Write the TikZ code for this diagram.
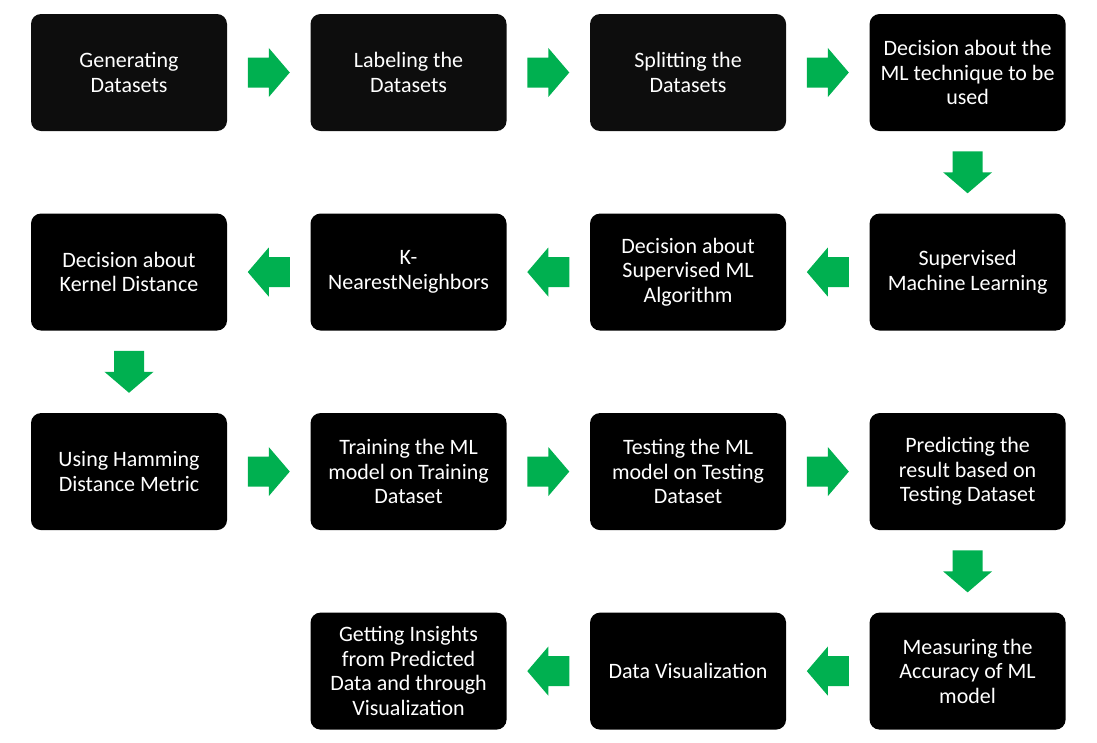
\documentclass[tikz,border=0pt]{standalone}
\usepackage{fontspec}
\setmainfont{Carlito}
\usepackage{xcolor}
\usetikzlibrary{positioning}
\definecolor{boxgray}{RGB}{13,13,13}
\definecolor{arrowgreen}{RGB}{0,176,80}

\begin{document}
\begin{tikzpicture}[node distance={61.5pt and 62.25pt},
        main/.style = {fill=black, text=white, rounded corners=7.5pt, minimum width=147pt, minimum height=87.75pt, align=center, font=\fontsize{16.5}{18.4}\selectfont},
        flowarrow/.pic = {\fill[arrowgreen] (-15.75pt,-11.25pt) -- (0pt,-11.25pt) -- (0pt,-18.4pt) -- (15.75pt,0pt) -- (0pt,18.4pt) -- (0pt,11.25pt) -- (-15.75pt,11.25pt) -- cycle;}]
        \useasboundingbox (0pt,0pt) rectangle (822.75pt,-557.25pt);
        \node[main, fill=boxgray] (1) at (96.75pt,-54.375pt) {Generating\\Datasets};
        \node[main, fill=boxgray] (2) [right=of 1] {Labeling the\\Datasets};
        \node[main, fill=boxgray] (3) [right=of 2] {Splitting the\\Datasets};
        \node[main] (4) [right=of 3] {Decision about the\\ML technique to be\\used};
        \node[main] (5) [below=of 4] {Supervised\\Machine Learning};
        \node[main] (6) [left=of 5] {Decision about\\Supervised ML\\Algorithm};
        \node[main] (7) [left=of 6] {K-\\NearestNeighbors};
        \node[main] (8) [left=of 7] {Decision about\\Kernel Distance};
        \node[main] (9) [below=of 8] {Using Hamming\\Distance Metric};
        \node[main] (10) [right=of 9] {Training the ML\\model on Training\\Dataset};
        \node[main] (11) [right=of 10] {Testing the ML\\model on Testing\\Dataset};
        \node[main] (12) [right=of 11] {Predicting the\\result based on\\Testing Dataset};
        \node[main] (13) [below=of 12] {Measuring the\\Accuracy of ML\\model};
        \node[main] (14) [left=of 13] {Data Visualization};
        \node[main] (15) [left=of 14] {Getting Insights\\from Predicted\\Data and through\\Visualization};

        % green block arrows between the steps
        \foreach \a/\b in {1/2,2/3,3/4,4/5,5/6,6/7,7/8,8/9,9/10,10/11,11/12,12/13,13/14,14/15}
            \path (\a) -- (\b) pic[midway, sloped, allow upside down] {flowarrow};

    \end{tikzpicture}
\end{document}
